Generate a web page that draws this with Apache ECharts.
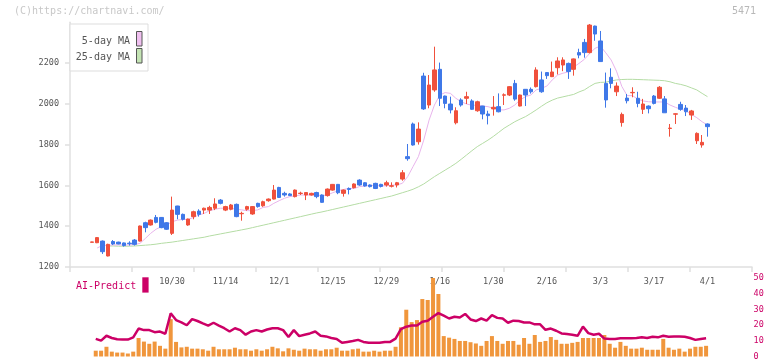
<!DOCTYPE html>
<html><head><meta charset="utf-8">
<script src="https://cdn.jsdelivr.net/npm/echarts@6/dist/echarts.min.js"></script>
<style>html,body{margin:0;padding:0;background:#fff}#c{width:772px;height:361px}</style>
</head><body><div id="c"></div><script>
const tickLabels = ['10/30','11/14','12/1','12/15','12/29','1/16','1/30','2/16','3/3','3/17','4/1'];
const yTicks = [1200,1400,1600,1800,2000,2200];
const opens = [1321,1319,1327,1254,1325,1322,1318,1317,1332,1327,
1417,1406,1443,1443,1417,1365,1499,1458,1406,1447,
1474,1479,1479,1488,1528,1479,1483,1507,1461,1483,
1460,1512,1500,1525,1533,1590,1561,1558,1545,1560,
1553,1553,1565,1553,1550,1577,1605,1561,1585,1589,
1626,1613,1602,1610,1605,1602,1596,1602,1631,1741,
1901,1814,2136,1994,2068,2169,2038,1999,1907,2019,
2027,2014,1966,1989,1950,1975,1986,2042,2043,2100,
1989,2071,2071,2084,2117,2153,2133,2177,2190,2198,
2169,2251,2301,2251,2381,2308,2100,2130,2059,1908,
2028,2054,2027,1973,1989,2038,2027,2024,1879,1949,
1997,1979,1945,1819,1798,1901];
const closes = [1323,1344,1275,1311,1313,1313,1305,1314,1311,1401,
1393,1430,1419,1393,1385,1479,1458,1434,1435,1471,
1458,1488,1492,1509,1512,1496,1504,1447,1463,1496,
1496,1496,1520,1533,1577,1541,1553,1550,1577,1562,
1565,1561,1545,1517,1582,1605,1564,1577,1580,1607,
1602,1597,1594,1585,1595,1613,1598,1613,1662,1731,
1798,1876,1975,2092,2166,2027,2002,1970,1966,1994,
2035,1973,2010,1950,1942,1983,1961,2044,2084,2023,
2043,2043,2059,2166,2059,2138,2156,2210,2215,2158,
2220,2239,2251,2386,2342,2207,2019,2100,2087,1948,
2015,2056,2002,1999,1976,2002,2081,1956,1881,1951,
1973,1961,1965,1855,1811,1888];
const lows = [1320,1317,1264,1252,1308,1311,1300,1305,1305,1325,
1370,1403,1414,1390,1382,1357,1434,1428,1402,1434,
1447,1460,1460,1479,1507,1474,1478,1444,1427,1476,
1456,1491,1495,1520,1531,1539,1545,1548,1541,1553,
1528,1550,1537,1515,1545,1574,1557,1545,1556,1585,
1598,1594,1590,1582,1590,1594,1590,1590,1623,1721,
1795,1800,1970,1978,2059,1989,1978,1953,1899,1986,
1999,1970,1961,1924,1899,1942,1958,1994,2038,2015,
1987,1989,2050,2080,2054,2122,2131,2144,2160,2122,
2138,2223,2226,2247,2309,2207,1981,2076,2038,1888,
2002,2032,1983,1950,1953,1997,2024,1956,1839,1901,
1966,1940,1921,1803,1785,1839];
const highs = [1324,1347,1330,1314,1332,1324,1320,1326,1337,1403,
1422,1433,1455,1445,1420,1545,1500,1462,1437,1476,
1483,1491,1500,1537,1533,1500,1509,1511,1471,1500,
1499,1515,1525,1536,1602,1593,1569,1562,1580,1569,
1566,1564,1569,1556,1585,1607,1607,1580,1590,1610,
1630,1616,1605,1613,1608,1623,1615,1617,1675,1803,
1908,1909,2152,2141,2280,2202,2040,2035,1983,2027,
2059,2022,2015,1990,1966,2038,2051,2051,2087,2117,
2045,2072,2080,2179,2158,2155,2207,2228,2228,2202,
2222,2270,2318,2391,2383,2357,2153,2174,2105,1957,
2048,2081,2059,2024,1992,2043,2087,2038,1901,1953,
2010,1994,1970,1860,1847,1904];
const ma5 = [null,1293,1306,1306,1308,1308,1308,1308,1310,1316,
1340,1365,1385,1398,1406,1422,1430,1433,1433,1443,
1455,1463,1476,1483,1488,1488,1488,1483,1480,1476,
1476,1480,1492,1496,1512,1525,1537,1545,1549,1553,
1553,1553,1553,1550,1553,1564,1574,1580,1585,1585,
1594,1597,1600,1599,1598,1598,1601,1603,1610,1643,
1692,1741,1822,1920,1994,2043,2055,2051,2027,2010,
1999,1993,1993,1989,1986,1978,1970,1970,1978,1994,
2019,2035,2043,2068,2076,2087,2117,2141,2150,2156,
2180,2198,2218,2247,2272,2283,2250,2215,2160,2085,
2040,2040,2022,2014,2010,2009,2009,2009,1994,1983,
1973,1966,1948,1932,1912,1896];
const ma25 = [null,null,null,1303,1303,1302,1302,1302,1303,1305,
1307,1309,1312,1316,1319,1322,1326,1330,1334,1338,
1342,1346,1352,1357,1362,1367,1372,1377,1382,1387,
1393,1399,1405,1411,1417,1423,1429,1435,1441,1447,
1453,1459,1465,1470,1476,1482,1488,1494,1500,1506,
1512,1518,1524,1530,1536,1542,1548,1556,1564,1572,
1581,1593,1607,1625,1643,1659,1675,1691,1708,1728,
1749,1770,1790,1806,1822,1840,1860,1880,1896,1912,
1925,1937,1953,1970,1988,2005,2018,2028,2034,2040,
2046,2058,2068,2085,2100,2105,2106,2112,2117,2119,
2120,2120,2119,2118,2117,2116,2115,2113,2108,2100,
2095,2088,2078,2068,2051,2035];
// AI-Predict panel, one value per candle starting from the 2nd candle
const aiBars = [3.7,3.7,6.2,3.1,2.5,2.5,1.9,3.1,11.8,9.5,
8.1,9.5,6.8,5.0,23.8,9.3,5.8,6.2,5.0,5.0,
4.6,3.7,6.2,4.6,4.6,4.6,5.6,4.6,4.6,3.7,
4.6,3.7,4.6,6.2,5.2,3.3,5.2,4.3,3.7,5.0,
4.6,4.6,3.7,4.6,4.6,5.6,3.7,3.7,4.6,5.0,
3.1,3.1,3.7,3.1,3.7,3.7,6.2,18.6,29.8,21.9,
23.2,36.6,36.0,50,39.8,13.0,12.0,11.2,9.9,9.9,
9.1,8.3,6.8,9.9,13.0,9.9,8.1,9.9,9.9,7.5,
11.8,8.1,13.7,9.3,9.9,12.4,10.6,8.1,8.1,8.7,
9.3,11.8,11.8,11.8,11.8,13.7,8.1,5.6,9.3,6.8,
5.0,5.0,5.6,4.3,4.3,4.3,11.2,5.6,4.3,5.0,
3.1,5.0,6.2,6.2,6.8];
const aiLine = [11.2,10.1,13.2,11.8,11.0,10.8,10.8,12.2,17.8,16.8,
16.8,15.5,15.9,14.5,27.5,23.2,21.7,19.9,23.8,22.6,
21.1,19.7,21.5,19.7,18.0,15.9,18.0,16.8,13.9,15.9,
16.8,15.9,17.2,18.0,18.0,16.8,12.4,16.8,13.0,13.9,
14.7,15.9,13.2,12.8,11.8,11.2,8.7,9.3,9.9,10.6,
9.3,8.7,8.7,8.7,9.3,9.3,11.4,17.4,19.0,19.7,
19.7,22.2,22.8,25.3,27.7,26.0,24.2,25.3,24.8,27.1,
23.6,22.6,24.2,22.8,26.3,24.6,24.2,21.5,22.8,22.6,
21.7,21.7,20.5,20.5,17.0,17.8,16.4,14.7,14.3,13.9,
13.2,19.0,14.9,13.9,14.5,11.4,11.2,11.2,11.6,11.6,
11.6,11.8,12.2,11.8,12.6,12.2,13.2,12.6,12.8,12.8,
12.6,11.8,10.6,11.2,11.6];
const aiTicks = [0,10,20,30,40,50];

const mono = 'DejaVu Sans Mono';
const PAD = 4, SLOTS = 128, FIRST_LABEL = 15, STEP = 10;
const cats = Array.from({length: SLOTS}, (_, i) => 's' + i);
const labelAt = {};
tickLabels.forEach((t, k) => { labelAt[PAD + FIRST_LABEL + STEP * k] = t; });
const candleData = opens.map((o, i) => [PAD + i, o, closes[i], lows[i], highs[i]]);
const ma5Data = ma5.map((v, i) => [PAD + i, v]).filter(d => d[1] != null);
const ma25Data = ma25.map((v, i) => [PAD + i, v]).filter(d => d[1] != null);
const barData = aiBars.map((v, i) => [PAD + 1 + i, v]);
const lineData = aiLine.map((v, i) => [PAD + 1 + i, v]);

const RED = '#f0503c', BLUE = '#3f78e8';
const axisGrey = '#e0e0e0';
const chart = echarts.init(document.getElementById('c'));
chart.setOption({
  animation: false,
  grid: [
    {left: 70, top: 22.2, width: 682, height: 244.8},
    {left: 67.7, top: 22.2, width: 685.3, height: 244.8},
    {left: 66.3, top: 278, width: 685.3, height: 80.5}
  ],
  xAxis: [
    {gridIndex: 0, type: 'value', min: 0, max: 11, interval: 1,
     axisLine: {show: true, lineStyle: {color: axisGrey, width: 1.5}},
     axisTick: {show: true, length: 5, lineStyle: {color: axisGrey, width: 1.5}},
     axisLabel: {show: false}, splitLine: {show: false}},
    {gridIndex: 1, type: 'category', data: cats, boundaryGap: true,
     axisLine: {show: false}, axisTick: {show: false}, splitLine: {show: false},
     axisLabel: {interval: (i) => labelAt[i] !== undefined, formatter: (v, i) => labelAt[i] || '',
       fontFamily: mono, fontSize: 8.5, color: '#555', margin: 10}},
    {gridIndex: 2, type: 'category', data: cats, boundaryGap: true, show: false}
  ],
  yAxis: [
    {gridIndex: 0, type: 'value', min: 1200, max: 2400, interval: 200,
     axisLine: {show: true, lineStyle: {color: axisGrey, width: 1.5}},
     axisTick: {show: true, length: 5, customValues: yTicks, lineStyle: {color: axisGrey, width: 1.5}},
     axisLabel: {customValues: yTicks, formatter: (v) => String(v), fontFamily: mono, fontSize: 8.5, color: '#555', margin: 11},
     splitLine: {show: false}},
    {gridIndex: 1, type: 'value', min: 1200, max: 2400, show: false},
    {gridIndex: 2, type: 'value', min: 0, max: 50, interval: 10, position: 'right',
     axisLine: {show: false}, axisTick: {show: false}, splitLine: {show: false},
     axisLabel: {customValues: aiTicks, formatter: (v) => String(v), fontFamily: mono, fontSize: 8.5, color: '#cc0066', margin: 2}}
  ],
  series: [
    {type: 'line', xAxisIndex: 1, yAxisIndex: 1, data: ma25Data, symbol: 'none', z: 1,
     lineStyle: {color: '#b4dca4', width: 1}},
    {type: 'line', xAxisIndex: 1, yAxisIndex: 1, data: ma5Data, symbol: 'none', z: 1,
     lineStyle: {color: '#e8b4ec', width: 1}},
    {type: 'candlestick', xAxisIndex: 1, yAxisIndex: 1, data: candleData, z: 3,
     encode: {x: 0, y: [1, 2, 3, 4]}, barWidth: 4,
     itemStyle: {color: RED, color0: BLUE, borderColor: RED, borderColor0: BLUE, borderWidth: 1}},
    {type: 'bar', xAxisIndex: 2, yAxisIndex: 2, data: barData, barWidth: 4, z: 2,
     itemStyle: {color: '#f0963c'}},
    {type: 'line', xAxisIndex: 2, yAxisIndex: 2, data: lineData, symbol: 'none', z: 3,
     lineStyle: {color: '#cc0066', width: 2.5}}
  ],
  graphic: [
    {type: 'text', left: 14, top: 6, style: {text: '(C)https://chartnavi.com/', fill: '#c8c8c8', font: '10px "DejaVu Sans Mono"'}},
    {type: 'text', right: 16, top: 6, style: {text: '5471', fill: '#b8b8b8', font: '10px "DejaVu Sans Mono"'}},
    {type: 'rect', shape: {x: 70, y: 24, width: 78, height: 47}, style: {fill: '#fff', stroke: '#dddddd', lineWidth: 1}, z: 10},
    {type: 'text', x: 130, y: 41.5, style: {text: '5-day MA', fill: '#555', font: '10px "DejaVu Sans Mono"', textAlign: 'right', textVerticalAlign: 'middle'}, z: 11},
    {type: 'text', x: 130, y: 57.3, style: {text: '25-day MA', fill: '#555', font: '10px "DejaVu Sans Mono"', textAlign: 'right', textVerticalAlign: 'middle'}, z: 11},
    {type: 'rect', shape: {x: 136.5, y: 31.5, width: 5.5, height: 14.5}, style: {fill: '#f0c0f0', stroke: '#555', lineWidth: 1}, z: 11},
    {type: 'rect', shape: {x: 136.5, y: 48.5, width: 5.5, height: 14.5}, style: {fill: '#c4e4b4', stroke: '#555', lineWidth: 1}, z: 11},
    {type: 'text', x: 76, y: 286, style: {text: 'AI-Predict', fill: '#cc0066', font: '10px "DejaVu Sans Mono"', textVerticalAlign: 'middle'}, z: 11},
    {type: 'rect', shape: {x: 142.3, y: 277.3, width: 6.3, height: 15.3}, style: {fill: '#cc0066'}, z: 11}
  ]
});
</script></body></html>
